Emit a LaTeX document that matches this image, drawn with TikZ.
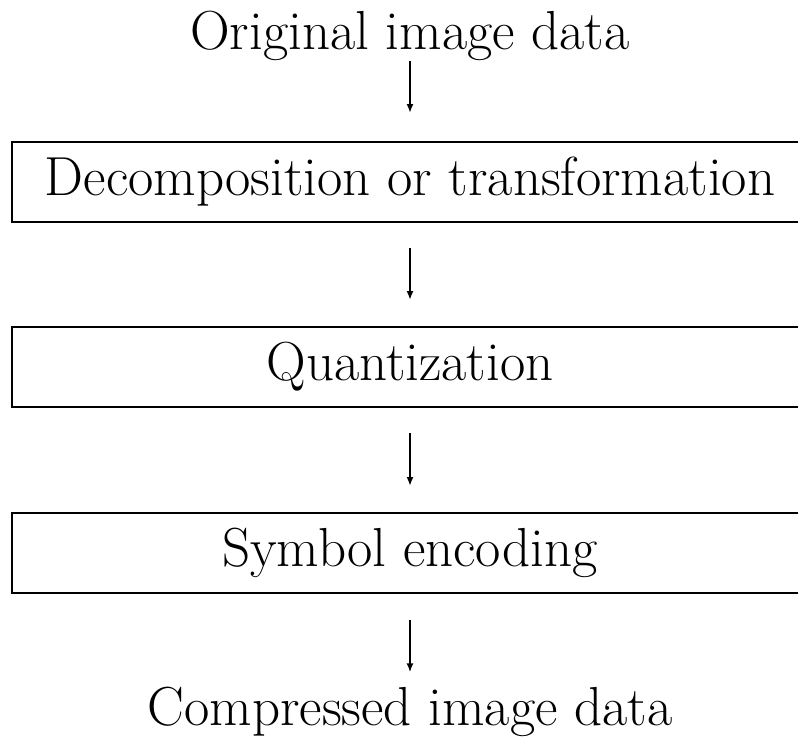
\documentclass[tikz,border=0pt]{standalone}
\usetikzlibrary{arrows.meta}
\begin{document}
\begin{tikzpicture}[x=1pt,y=-1pt,
  bigfont/.style={font=\fontsize{55}{60}\selectfont},
  label/.style={bigfont,inner sep=0pt,anchor=base},
  stagebox/.style={bigfont,draw,line width=2pt,minimum width=796pt,minimum height=80pt,inner sep=0pt},
  arr/.style={line width=2pt,-{Latex[length=9pt,width=7pt]}}]
\useasboundingbox (0,0) rectangle (798,752);
\clip (0,0) rectangle (798,752);
\node[label] (top) at (410,50) {Original image data};
\node[stagebox] (b1) at (410,182) {Decomposition or transformation};
\node[stagebox] (b2) at (410,367) {Quantization};
\node[stagebox] (b3) at (410,553) {Symbol encoding};
\node[label] (bot) at (410,725) {Compressed image data};
\draw[arr] (top.south) -- ([yshift=28pt]b1.north);
\draw[arr] ([yshift=-25pt]b1.south) -- ([yshift=26pt]b2.north);
\draw[arr] ([yshift=-25pt]b2.south) -- ([yshift=26pt]b3.north);
\draw[arr] ([yshift=-26pt]b3.south) -- ([yshift=14pt]bot.north);
\end{tikzpicture}
\end{document}
